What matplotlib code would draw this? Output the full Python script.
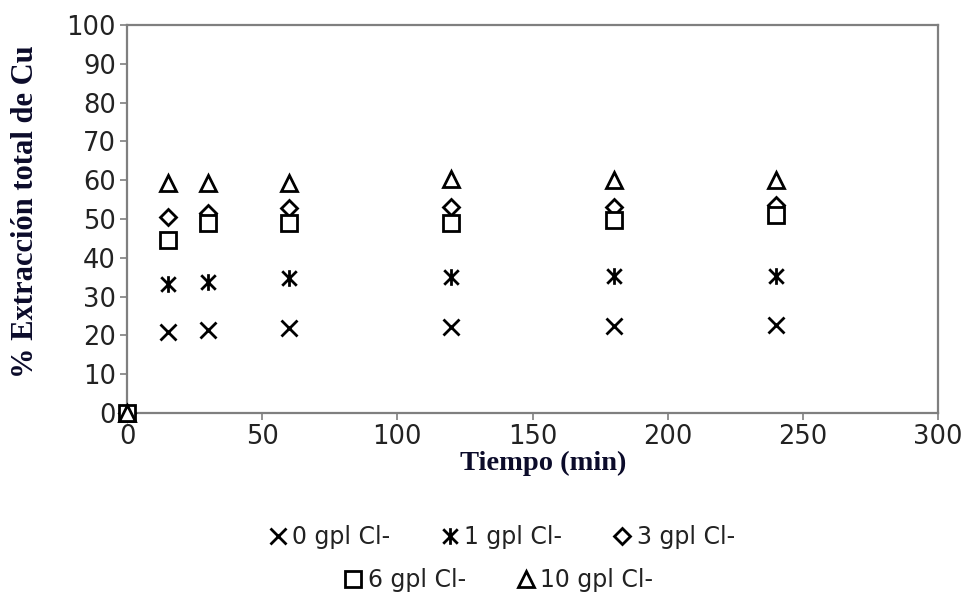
import matplotlib
matplotlib.use('Agg')
import matplotlib.pyplot as plt
from matplotlib.path import Path

# Extracción total de Cu vs tiempo para distintas concentraciones de cloruro
tiempo = [0, 15, 30, 60, 120, 180, 240]

cl_0 = [0, 20.9, 21.4, 21.9, 22.2, 22.4, 22.7]
cl_1 = [0, 33.2, 33.8, 34.8, 35.0, 35.3, 35.3]
cl_3 = [0, 50.5, 51.5, 52.8, 53.0, 53.0, 53.6]
cl_6 = [0, 44.6, 49.0, 49.0, 49.0, 49.7, 51.0]
cl_10 = [0, 59.3, 59.3, 59.3, 60.2, 60.0, 60.0]

labels = ['0 gpl Cl-', '1 gpl Cl-', '3 gpl Cl-', '6 gpl Cl-', '10 gpl Cl-']

# asterisk marker: X plus a vertical bar
ASTER = Path([(-1, -1), (1, 1), (-1, 1), (1, -1), (0, -1.15), (0, 1.15)],
             [Path.MOVETO, Path.LINETO, Path.MOVETO, Path.LINETO,
              Path.MOVETO, Path.LINETO])

TXT = '#222222'
LBL = '#0b0b2a'
SPINE = '#7f7f7f'

fig = plt.figure(figsize=(9.72, 6.05), dpi=100)
ax = fig.add_axes([0.1307, 0.3174, 0.8343, 0.6413])

series = [
    (cl_0, 'x', 12),
    (cl_1, ASTER, 12),
    (cl_3, 'D', 8.5),
    (cl_6, 's', 11),
    (cl_10, '^', 11.5),
]
handles = []
for vals, mk, ms in series:
    h, = ax.plot(tiempo, vals, linestyle='none', marker=mk, markersize=ms,
                 markerfacecolor='white', markeredgecolor='black',
                 markeredgewidth=2.0, clip_on=False, zorder=3)
    handles.append(h)

ax.set_xlim(0, 300)
ax.set_ylim(0, 100)
ax.set_xticks(range(0, 301, 50))
ax.set_yticks(range(0, 101, 10))

for s in ax.spines.values():
    s.set_color(SPINE)
    s.set_linewidth(1.6)

ax.tick_params(direction='out', length=5, width=1.2, color=SPINE,
               labelsize=18.5, labelcolor=TXT, pad=3)
for t in ax.get_xticklabels() + ax.get_yticklabels():
    t.set_family('DejaVu Sans')

ax.set_xlabel('Tiempo (min)', family='Liberation Serif', fontweight='bold',
              fontsize=20.5, color=LBL)
ax.set_ylabel('% Extracción total de Cu', family='Liberation Serif',
              fontweight='bold', fontsize=22, color=LBL)
ax.xaxis.set_label_coords(0.513, -0.098)
ax.yaxis.set_label_coords(-0.107, 0.519)

leg_kw = dict(frameon=False, handletextpad=0.05, columnspacing=2.0,
              handlelength=1.1, prop={'family': 'DejaVu Sans', 'size': 17},
              labelcolor=TXT)
leg1 = fig.legend(handles[:3], labels[:3], loc='center', ncol=3,
                  bbox_to_anchor=(0.514, 0.112), **leg_kw)
leg2 = fig.legend(handles[3:], labels[3:], loc='center', ncol=2,
                  bbox_to_anchor=(0.511, 0.041), **leg_kw)

fig.savefig('out.png', dpi=100, facecolor='white')
